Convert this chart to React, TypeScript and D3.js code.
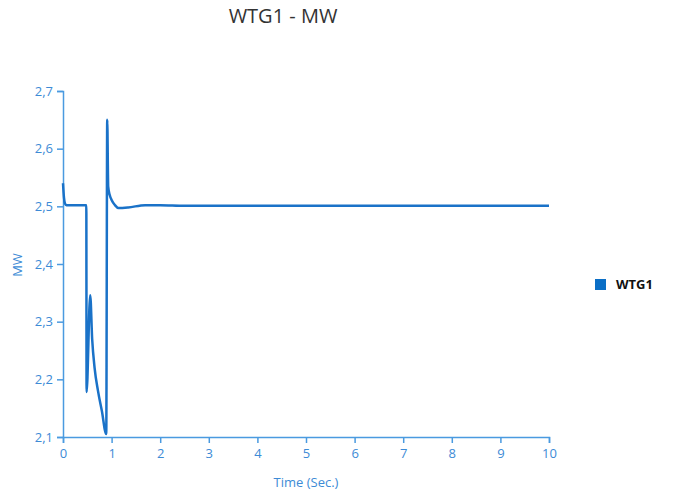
import * as d3 from "d3";
import { useEffect, useRef } from "react";

// time (s) and power (MW) samples
const times = [0, 0.02, 0.04, 0.07, 0.2, 0.48, 0.485, 0.56, 0.6, 0.65, 0.72, 0.8, 0.89, 0.91, 0.93, 0.96, 1.0, 1.07, 1.14, 1.34, 1.69, 2.0, 2.5, 4, 6, 8, 10];
const mw = [2.54, 2.515, 2.505, 2.502, 2.502, 2.502, 2.178, 2.346, 2.27, 2.22, 2.18, 2.145, 2.105, 2.65, 2.534, 2.52, 2.511, 2.502, 2.497, 2.498, 2.502, 2.502, 2.501, 2.501, 2.501, 2.501, 2.501];
const xTicks = [0, 1, 2, 3, 4, 5, 6, 7, 8, 9, 10];
const yTicks = [2.1, 2.2, 2.3, 2.4, 2.5, 2.6, 2.7];
const seriesName = "WTG1";

export default function App() {
  const ref = useRef(null);

  useEffect(() => {
    const svg = d3.select(ref.current);
    svg.selectAll("*").remove();

    const axisColor = "#4a9ae0";
    const lineColor = "#1a72c8";
    const font = "'Open Sans', 'Noto Sans', sans-serif";

    const x = d3.scaleLinear().domain([0, 10]).range([63, 549]);
    const y = d3.scaleLinear().domain([2.1, 2.7]).range([437, 91]);

    svg
      .append("text")
      .attr("x", 283)
      .attr("y", 23)
      .attr("text-anchor", "middle")
      .attr("font-family", font)
      .attr("font-size", 20)
      .attr("fill", "#333")
      .text("WTG1 - MW");

    const fmt = (d: any) => d3.format(".1f")(d).replace(".", ",");

    const gx = svg
      .append("g")
      .attr("transform", "translate(0,437)")
      .call(d3.axisBottom(x).tickValues(xTicks).tickSize(6).tickPadding(6).tickFormat(d3.format("d")));
    const gy = svg
      .append("g")
      .attr("transform", "translate(63,0)")
      .call(d3.axisLeft(y).tickValues(yTicks).tickSize(6).tickPadding(4).tickFormat(fmt));

    [gx, gy].forEach((g) => {
      g.select(".domain").attr("stroke", axisColor).attr("stroke-width", 1.5);
      g.selectAll(".tick line").attr("stroke", axisColor).attr("stroke-width", 1.5);
      g.selectAll(".tick text")
        .attr("fill", "#3d8bd6")
        .attr("font-family", font)
        .attr("font-size", 13);
    });

    svg
      .append("text")
      .attr("x", 306)
      .attr("y", 487)
      .attr("text-anchor", "middle")
      .attr("font-family", font)
      .attr("font-size", 13)
      .attr("fill", "#3d8bd6")
      .text("Time (Sec.)");

    svg
      .append("text")
      .attr("transform", "translate(22,265) rotate(-90)")
      .attr("text-anchor", "middle")
      .attr("font-family", font)
      .attr("font-size", 13)
      .attr("fill", "#3d8bd6")
      .text("MW");

    const pts = times.map((t, i) => [t, mw[i]] as [number, number]);
    const line = d3
      .line<[number, number]>()
      .x((d) => x(d[0]))
      .y((d) => y(d[1]))
      .curve(d3.curveMonotoneX);

    svg
      .append("path")
      .datum(pts)
      .attr("fill", "none")
      .attr("stroke", lineColor)
      .attr("stroke-width", 2.5)
      .attr("stroke-linejoin", "round")
      .attr("d", line);

    // legend
    svg
      .append("rect")
      .attr("x", 595)
      .attr("y", 279)
      .attr("width", 11)
      .attr("height", 11)
      .attr("fill", "#0b6fc6");
    svg
      .append("text")
      .attr("x", 616)
      .attr("y", 289)
      .attr("font-family", font)
      .attr("font-size", 13)
      .attr("font-weight", "bold")
      .attr("fill", "#111")
      .text(seriesName);
  }, []);

  return <svg ref={ref} width={685} height={499} style={{ display: "block", position: "absolute", left: 0, top: 0 }} />;
}
